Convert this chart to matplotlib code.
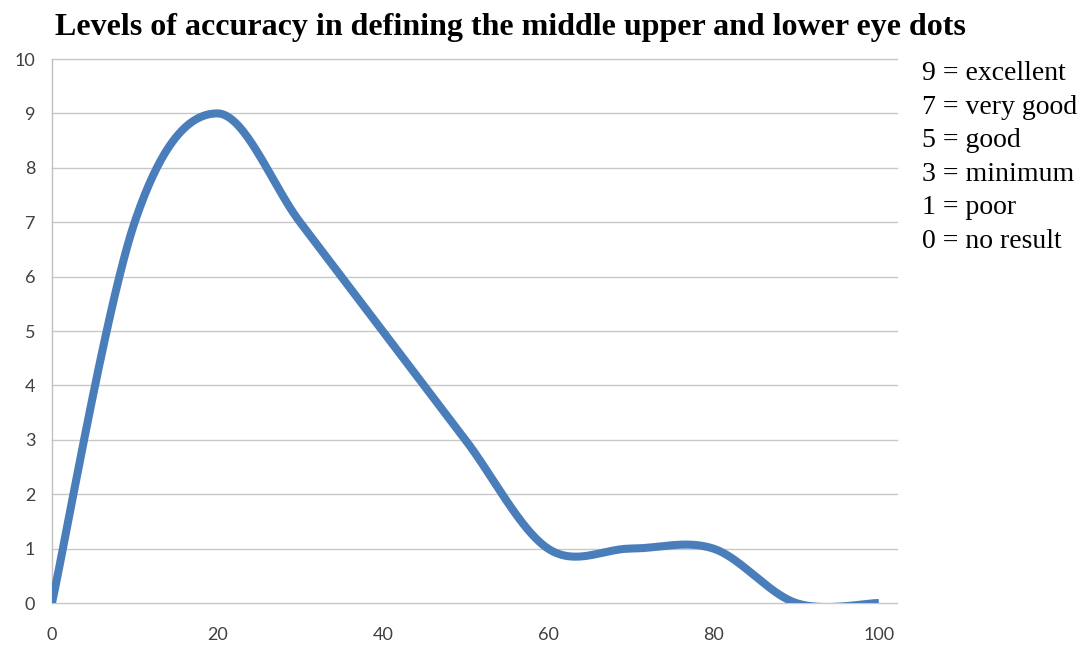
import numpy as np
import matplotlib
matplotlib.use("Agg")
import matplotlib.pyplot as plt

# accuracy score at each step
x_vals = [0, 10, 20, 30, 40, 50, 60, 70, 80, 90, 100]
scores = [0, 7, 9, 7, 5, 3, 1, 1, 1, 0, 0]

x_ticks = [0, 20, 40, 60, 80, 100]
y_ticks = list(range(0, 11))

title = "Levels of accuracy in defining the middle upper and lower eye dots"
scale_notes = ["9 = excellent", "7 = very good", "5 = good",
               "3 = minimum", "1 = poor", "0 = no result"]


def smooth_curve(xs, ys, n=60):
    # catmull-rom style bezier smoothing, end points repeated
    p = np.column_stack([xs, ys]).astype(float)
    pts = np.vstack([p[0], p, p[-1]])
    out = []
    t = np.linspace(0, 1, n)[:, None]
    for i in range(1, len(pts) - 2):
        p0, p1, p2, p3 = pts[i - 1], pts[i], pts[i + 1], pts[i + 2]
        c1 = p1 + (p2 - p0) / 6.0
        c2 = p2 - (p3 - p1) / 6.0
        seg = ((1 - t) ** 3) * p1 + 3 * ((1 - t) ** 2) * t * c1 \
            + 3 * (1 - t) * t ** 2 * c2 + t ** 3 * p2
        out.append(seg if i == 1 else seg[1:])
    out = np.vstack(out)
    return out[:, 0], out[:, 1]


fig = plt.figure(figsize=(10.85, 6.45), dpi=100)
ax = fig.add_axes([0.0479, 0.0651, 0.7788, 0.8434])

sx, sy = smooth_curve(x_vals, scores)
ax.plot(sx, sy, color="#4a7ebb", lw=5.8, solid_capstyle="butt", zorder=3)

ax.set_xlim(0, 102.2)
ax.set_ylim(0, 10)
ax.set_xticks(x_ticks)
ax.set_yticks(y_ticks)
ax.grid(axis="y", color="#c8c8c8", lw=1.0)
ax.set_axisbelow(True)
for gl in ax.get_ygridlines():
    gl.set_clip_on(False)
for side in ["top", "right", "bottom"]:
    ax.spines[side].set_visible(False)
ax.spines["left"].set_color("#c0c0c0")
ax.spines["left"].set_linewidth(1.0)
ax.tick_params(length=0, labelsize=13, labelcolor="#404040")
ax.tick_params(axis="y", pad=12)
ax.tick_params(axis="x", pad=17)
for lab in ax.get_xticklabels() + ax.get_yticklabels():
    lab.set_family("Lato")

fig.text(0.470, 0.957, title, ha="center", va="center",
         family="Liberation Serif", fontweight="bold", fontsize=23)

for i, note in enumerate(scale_notes):
    fig.text(0.8498, 0.886 - i * 0.0521, note, ha="left", va="center",
             family="Liberation Serif", fontsize=20)

fig.savefig("out.png", dpi=100)
